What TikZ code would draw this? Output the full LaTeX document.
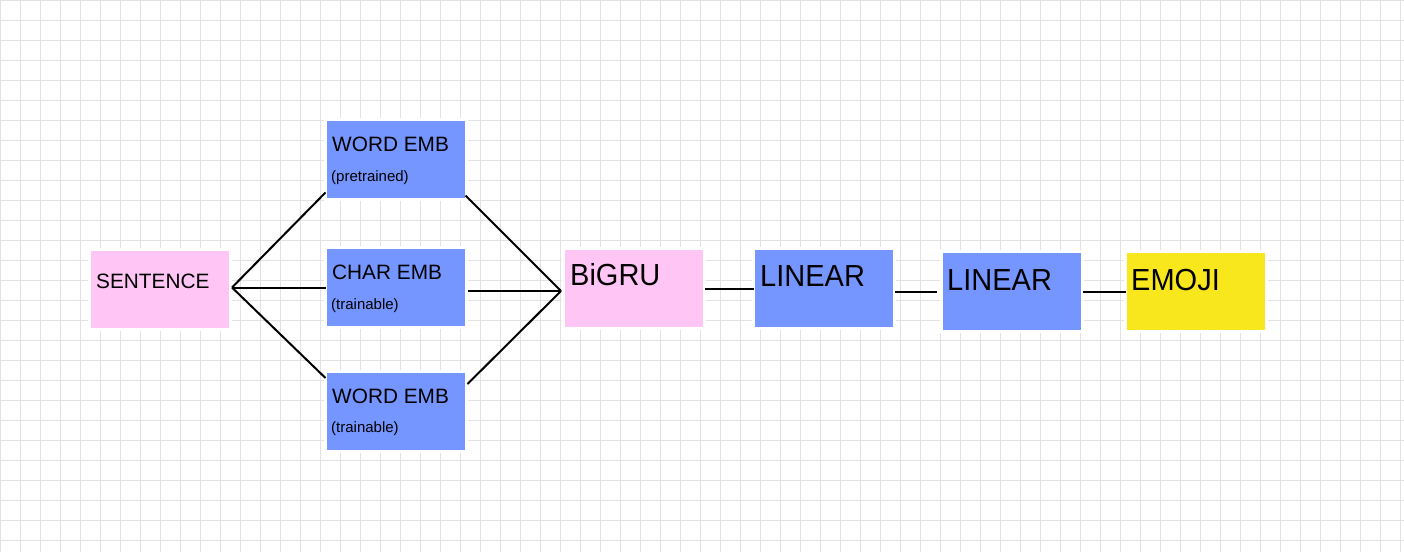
\documentclass[tikz,border=0pt]{standalone}
\usepackage{fontspec}
\setmainfont{Liberation Sans}
\definecolor{boxpink}{RGB}{255,197,244}
\definecolor{boxblue}{RGB}{117,149,255}
\definecolor{boxyellow}{RGB}{249,231,30}
\definecolor{gridgray}{RGB}{226,226,226}
\tikzset{
  layer/.style={draw=white, line width=3pt, outer sep=0pt, inner sep=0pt,
    minimum width=141pt, minimum height=80pt},
  pinklayer/.style={layer, fill=boxpink},
  bluelayer/.style={layer, fill=boxblue},
  yellowlayer/.style={layer, fill=boxyellow},
  name txt/.style={anchor=base west, inner sep=0pt, font=\fontsize{20.8}{24}\selectfont},
  sub txt/.style={anchor=base west, inner sep=0pt, font=\fontsize{15}{18}\selectfont},
  big txt/.style={anchor=base west, inner sep=0pt, font=\fontsize{29}{34}\selectfont, yscale=1.05},
  link/.style={line width=2pt},
  gridline/.style={draw=gridgray, line width=1pt}
}
\begin{document}
\begin{tikzpicture}[x=1pt, y=-1pt]
      \fill[white] (0,0) rectangle (1404,552);
      \useasboundingbox (0,0) rectangle (1404,552);
      \foreach \gx in {0,20,...,1400} \draw[gridline] (\gx,0) -- (\gx,552);
      \foreach \gy in {0,20,...,540} \draw[gridline] (0,\gy) -- (1404,\gy);

      % layers
      \node[pinklayer] (sentence) at (160,289.5) {};
      \node[bluelayer] (wordemb) at (396,159.5) {};
      \node[bluelayer] (charemb) at (396,287.5) {};
      \node[bluelayer] (wordemb2) at (396,411.5) {};
      \node[pinklayer] (bigru) at (634,288) {};
      \node[bluelayer] (linear) at (824,288) {};
      \node[bluelayer] (linear2) at (1012,291.5) {};
      \node[yellowlayer] (emoji) at (1196,291.5) {};

      % texts
      \node[name txt] (sentence-t) at ([shift={(6.5,38.5)}]sentence.north west) {SENTENCE};
      \node[name txt] (wordemb-t) at ([shift={(6.5,32)}]wordemb.north west) {WORD EMB};
      \node[sub txt] (wordemb-s) at ([shift={(5.5,61.5)}]wordemb.north west) {(pretrained)};
      \node[name txt] (charemb-t) at ([shift={(6.5,32)}]charemb.north west) {CHAR EMB};
      \node[sub txt] (charemb-s) at ([shift={(5.5,61.5)}]charemb.north west) {(trainable)};
      \node[name txt] (wordemb2-t) at ([shift={(6.5,32)}]wordemb2.north west) {WORD EMB};
      \node[sub txt] (wordemb2-s) at ([shift={(5.5,61)}]wordemb2.north west) {(trainable)};
      \node[big txt] (bigru-t) at ([shift={(6.5,37.5)}]bigru.north west) {BiGRU};
      \node[big txt] (linear-t) at ([shift={(6.5,38.5)}]linear.north west) {LINEAR};
      \node[big txt] (linear2-t) at ([shift={(5.5,38.5)}]linear2.north west) {LINEAR};
      \node[big txt] (emoji-t) at ([shift={(5.5,38.5)}]emoji.north west) {EMOJI};

      % connectors
      \coordinate (split) at (232,287.5);
      \coordinate (join) at (561,291);
      \draw[link] (split) -- ([shift={(0,-7)}]wordemb.south west);
      \draw[link] (split) -- (charemb.west);
      \draw[link] (split) -- ([shift={(0,6.5)}]wordemb2.north west);
      \draw[link] ([shift={(-1,-4)}]wordemb.south east) -- (join);
      \draw[link] ([shift={(1,3.5)}]charemb.east) -- (join);
      \draw[link] ([shift={(1,12.5)}]wordemb2.north east) -- (join);
      \draw[link] ([shift={(0,1)}]bigru.east) -- ([shift={(0,1)}]linear.west);
      \draw[link] ([shift={(0,4)}]linear.east) -- ([shift={(-4.5,0.5)}]linear2.west);
      \draw[link] ([shift={(0,0.5)}]linear2.east) -- ([shift={(0,0.5)}]emoji.west);
    \end{tikzpicture}
\end{document}
